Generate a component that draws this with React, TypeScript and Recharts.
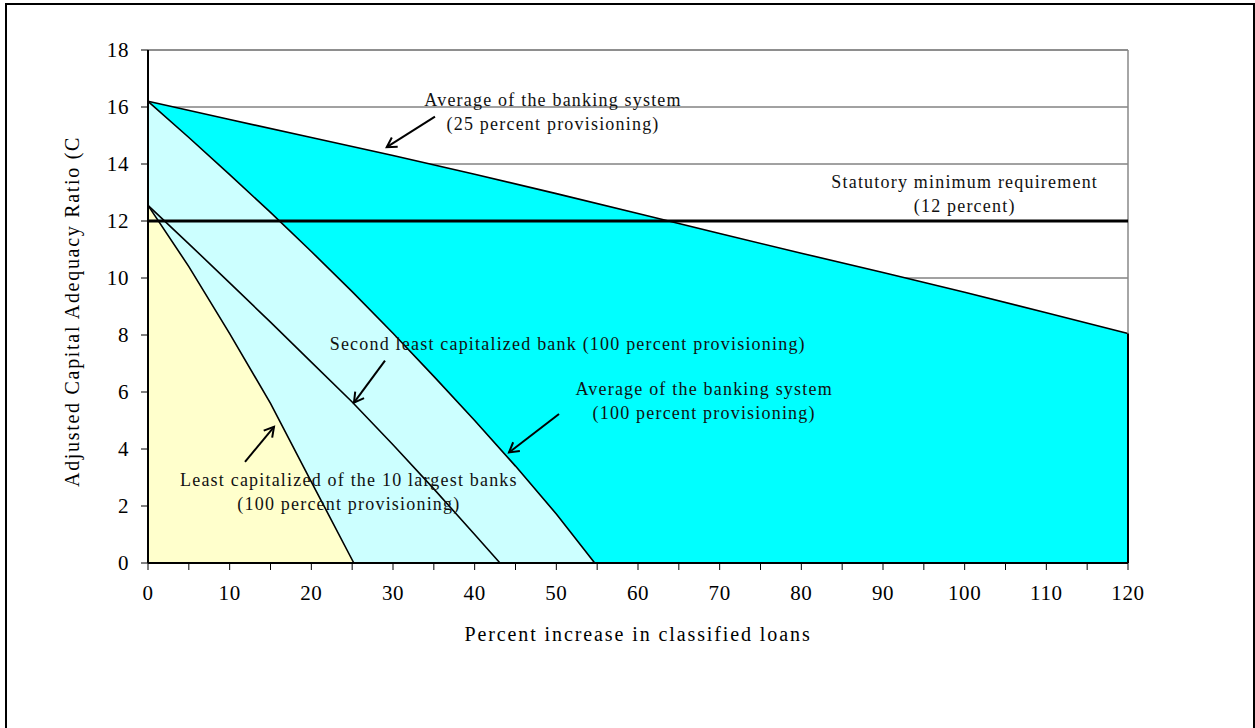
import { ComposedChart, Area, XAxis, YAxis, CartesianGrid, ReferenceLine, ReferenceDot } from "recharts"

// x axis: percent increase in classified loans
const xTicks = [0, 5, 10, 15, 20, 25, 30, 35, 40, 45, 50, 55, 60, 65, 70, 75, 80, 85, 90, 95, 100, 105, 110, 115, 120]
const yTicks = [0, 2, 4, 6, 8, 10, 12, 14, 16, 18]

// average of the banking system, 25 percent provisioning
const avg25X = [0, 10, 20, 30, 40, 50, 60, 70, 80, 90, 100, 110, 120]
const avg25Y = [16.2, 15.56, 14.93, 14.3, 13.64, 12.96, 12.26, 11.56, 10.87, 10.19, 9.5, 8.78, 8.05]

// average of the banking system, 100 percent provisioning
const avg100X = [0, 5, 10, 15, 20, 25, 30, 35, 40, 45, 50, 54.7]
const avg100Y = [16.2, 14.93, 13.63, 12.3, 10.93, 9.52, 8.06, 6.55, 5.0, 3.4, 1.72, 0]

// second least capitalized bank, 100 percent provisioning
const secondX = [0, 5, 10, 15, 20, 25, 30, 35, 40, 43.1]
const secondY = [12.55, 11.2, 9.83, 8.45, 7.05, 5.65, 4.15, 2.6, 1.0, 0]

// least capitalized of the 10 largest banks, 100 percent provisioning
const leastX = [0, 5, 10, 15, 20, 25.2]
const leastY = [12.55, 10.4, 8.05, 5.6, 2.85, 0]

const statutoryMin = 12

const notes = [
  { x: 49.6, y: 16.04, lines: ["Average of the banking system", "(25 percent provisioning)"] },
  { x: 100, y: 13.16, lines: ["Statutory minimum requirement", "(12 percent)"] },
  { x: 51.4, y: 7.47, lines: ["Second least capitalized bank (100 percent provisioning)"] },
  { x: 68.1, y: 5.89, lines: ["Average of the banking system", "(100 percent provisioning)"] },
  { x: 24.6, y: 2.7, lines: ["Least capitalized of the 10 largest banks", "(100 percent provisioning)"] },
]

// arrows: from tail to head, in data units
const arrows = [
  { x1: 35.14, y1: 15.66, x2: 29.23, y2: 14.59 },
  { x1: 29.02, y1: 7.1, x2: 25.22, y2: 5.63 },
  { x1: 11.88, y1: 3.55, x2: 15.43, y2: 4.78 },
  { x1: 50.33, y1: 5.23, x2: 44.2, y2: 3.88 },
]

const FONT = '"Liberation Serif", "Times New Roman", serif'

const rows = (xs: number[], ys: number[]) => xs.map((x, i) => ({ x, y: ys[i] }))

function Arrow(props: any) {
  const { x1, y1, x2, y2 } = props
  const ang = Math.atan2(y2 - y1, x2 - x1)
  const len = 11
  const spread = Math.PI / 6
  const ax = x2 - len * Math.cos(ang - spread)
  const ay = y2 - len * Math.sin(ang - spread)
  const bx = x2 - len * Math.cos(ang + spread)
  const by = y2 - len * Math.sin(ang + spread)
  return (
    <g stroke="#000" strokeWidth={2} fill="none">
      <line x1={x1} y1={y1} x2={x2} y2={y2} />
      <polyline points={`${ax},${ay} ${x2},${y2} ${bx},${by}`} />
    </g>
  )
}

function Note({ cx, cy, lines }: any) {
  return (
    <text x={cx} y={cy} textAnchor="middle" fontFamily={FONT} fontSize={18} letterSpacing={1.2} fill="#111">
      {lines.map((t: string, i: number) => (
        <tspan key={i} x={cx} dy={i === 0 ? 0 : 24}>
          {t}
        </tspan>
      ))}
    </text>
  )
}

export default function App() {
  const tickStyle = { fill: "#000", fontSize: 21, fontFamily: FONT, letterSpacing: 0.6 }
  return (
    <div style={{ position: "absolute", left: 0, top: 0, width: 1255, height: 728, background: "#fff", overflow: "hidden" }}>
      <div
        style={{
          position: "absolute",
          left: 5,
          top: 3,
          width: 1250,
          height: 800,
          border: "2px solid #000",
          boxSizing: "border-box",
        }}
      />
      <div style={{ position: "absolute", left: 0, top: 0 }}>
        <ComposedChart width={1255} height={728} margin={{ top: 50, right: 127, left: 78, bottom: 105 }} style={{ fontFamily: FONT }}>
          <CartesianGrid vertical={false} stroke="#444" strokeWidth={1} />
          <XAxis
            dataKey="x"
            type="number"
            domain={[0, 120]}
            ticks={xTicks}
            interval={0}
            height={60}
            tickSize={7}
            tickMargin={15}
            tick={tickStyle}
            tickFormatter={(v: number) => (v % 10 === 0 ? String(v) : "")}
            axisLine={{ stroke: "#000", strokeWidth: 2 }}
            tickLine={{ stroke: "#000", strokeWidth: 1 }}
            label={{
              content: ({ viewBox }: any) => (
                <text
                  x={viewBox.x + viewBox.width / 2}
                  y={viewBox.y + 78}
                  textAnchor="middle"
                  fontFamily={FONT}
                  fontSize={20}
                  letterSpacing={1.9}
                  fill="#000"
                >
                  Percent increase in classified loans
                </text>
              ),
            }}
          />
          <YAxis
            type="number"
            domain={[0, 18]}
            ticks={yTicks}
            interval={0}
            width={70}
            tickSize={7}
            tickMargin={12}
            tick={tickStyle}
            axisLine={{ stroke: "#000", strokeWidth: 2 }}
            tickLine={{ stroke: "#000", strokeWidth: 1 }}
            label={{
              content: () => (
                <text
                  x={79}
                  y={487}
                  transform="rotate(-90 79 487)"
                  textAnchor="start"
                  fontFamily={FONT}
                  fontSize={20}
                  letterSpacing={1.7}
                  fill="#000"
                >
                  Adjusted Capital Adequacy Ratio (C
                </text>
              ),
            }}
          />
          <Area
            data={rows(avg25X, avg25Y)}
            dataKey="y"
            name="Average, 25 percent provisioning"
            type="linear"
            fill="#00FFFF"
            fillOpacity={1}
            stroke="#000"
            strokeWidth={1.6}
            isAnimationActive={false}
          />
          <Area
            data={rows(avg100X, avg100Y)}
            dataKey="y"
            name="Average, 100 percent provisioning"
            type="linear"
            fill="#CCFFFF"
            fillOpacity={1}
            stroke="#000"
            strokeWidth={1.6}
            isAnimationActive={false}
          />
          <Area
            data={rows(secondX, secondY)}
            dataKey="y"
            name="Second least capitalized bank"
            type="linear"
            fill="#CCFFFF"
            fillOpacity={1}
            stroke="#000"
            strokeWidth={1.6}
            isAnimationActive={false}
          />
          <Area
            data={rows(leastX, leastY)}
            dataKey="y"
            name="Least capitalized of the 10 largest banks"
            type="linear"
            fill="#FFFFCC"
            fillOpacity={1}
            stroke="#000"
            strokeWidth={1.6}
            isAnimationActive={false}
          />
          <ReferenceLine segment={[{ x: 120, y: 0 }, { x: 120, y: 18 }]} stroke="#888" strokeWidth={1.5} />
          <ReferenceLine
            segment={[{ x: 120, y: 0 }, { x: 120, y: avg25Y[avg25Y.length - 1] }]}
            stroke="#000"
            strokeWidth={2}
          />
          <ReferenceLine y={18} stroke="#888" strokeWidth={1.5} />
          <ReferenceLine y={statutoryMin} stroke="#000" strokeWidth={3} />
          {arrows.map((a, i) => (
            <ReferenceLine
              key={"a" + i}
              segment={[{ x: a.x1, y: a.y1 }, { x: a.x2, y: a.y2 }]}
              shape={(p: any) => <Arrow {...p} />}
            />
          ))}
          {notes.map((n, i) => (
            <ReferenceDot
              key={"n" + i}
              x={n.x}
              y={n.y}
              r={0}
              ifOverflow="visible"
              shape={(p: any) => <Note cx={p.cx} cy={p.cy} lines={n.lines} />}
            />
          ))}
        </ComposedChart>
      </div>
    </div>
  )
}
